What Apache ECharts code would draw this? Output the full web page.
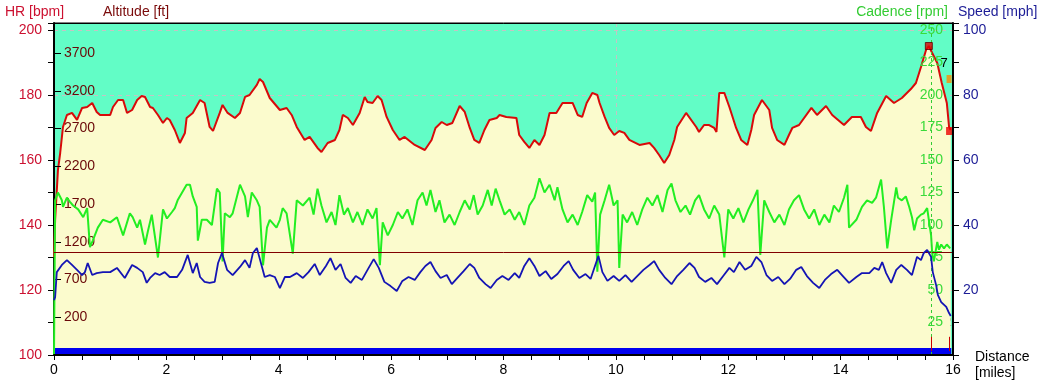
<!DOCTYPE html>
<html><head><meta charset="utf-8">
<script src="https://cdn.jsdelivr.net/npm/echarts/dist/echarts.min.js"></script>
<style>html,body{margin:0;padding:0;background:#fff}#c{width:1045px;height:385px}</style>
</head><body><div id="c"></div>
<script>
// ---------------- data ----------------
const altDist = [0,0.02,0.07,0.11,0.16,0.23,0.32,0.41,0.50,0.59,0.68,0.76,0.82,1.00,1.05,1.14,1.23,1.30,1.39,1.48,1.56,1.62,1.71,1.76,1.85,1.94,2.01,2.06,2.15,2.24,2.33,2.36,2.47,2.60,2.68,2.77,2.83,2.95,3.00,3.09,3.22,3.31,3.40,3.48,3.61,3.66,3.72,3.84,4.02,4.14,4.23,4.32,4.46,4.55,4.69,4.76,4.87,5.00,5.08,5.14,5.23,5.32,5.44,5.53,5.58,5.67,5.76,5.83,5.92,6.03,6.15,6.24,6.42,6.60,6.72,6.79,6.90,6.99,7.09,7.22,7.31,7.40,7.48,7.57,7.66,7.75,7.88,7.93,8.05,8.23,8.28,8.37,8.46,8.55,8.64,8.73,8.82,8.94,9.05,9.23,9.32,9.40,9.48,9.58,9.67,9.71,9.80,9.88,9.97,10.06,10.15,10.24,10.42,10.60,10.68,10.77,10.86,10.95,11.04,11.09,11.25,11.43,11.48,11.57,11.66,11.75,11.79,11.84,11.93,12.02,12.14,12.23,12.34,12.41,12.46,12.60,12.73,12.78,12.87,13.00,13.08,13.14,13.26,13.48,13.58,13.74,13.85,14.06,14.20,14.36,14.45,14.54,14.65,14.81,14.95,15.09,15.25,15.34,15.43,15.52,15.57,15.63,15.72,15.80,15.89,15.93,15.96];
const altFt = [1000,1490,2150,2377,2722,2881,2908,2815,2974,2987,3040,2921,2881,2881,2987,3080,3080,2908,2947,3080,3133,3120,2987,2974,2881,2775,2841,2815,2682,2510,2643,2841,2908,3080,3040,2722,2669,2908,3014,2908,2841,2908,3120,3146,3279,3358,3318,3106,2947,2974,2881,2722,2550,2590,2444,2391,2510,2550,2682,2881,2841,2748,2908,3120,3053,3040,3133,3080,2855,2682,2550,2590,2484,2417,2550,2709,2788,2748,2775,3000,2921,2709,2550,2510,2682,2815,2841,2881,2855,2841,2616,2524,2444,2550,2484,2616,2908,2908,3040,3040,2881,2855,3040,3173,3146,3040,2855,2709,2616,2669,2643,2550,2484,2510,2444,2351,2245,2351,2550,2722,2908,2722,2656,2748,2748,2709,2656,3173,3173,2987,2709,2550,2484,2682,2881,3080,2947,2709,2550,2484,2616,2709,2748,2974,2881,3000,2881,2748,2855,2855,2722,2669,2908,3133,3040,3106,3225,3305,3517,3742,3795,3702,3570,3305,3040,2722,2682];

const cadDist = [0,0.02,0.07,0.14,0.16,0.23,0.28,0.34,0.43,0.52,0.59,0.64,0.69,0.78,0.87,1.00,1.12,1.23,1.35,1.40,1.48,1.53,1.62,1.67,1.74,1.85,1.94,2.01,2.10,2.15,2.20,2.28,2.36,2.42,2.47,2.54,2.56,2.63,2.72,2.81,2.90,2.95,3.00,3.04,3.13,3.18,3.31,3.40,3.45,3.52,3.61,3.66,3.72,3.79,3.84,3.96,4.02,4.07,4.14,4.25,4.32,4.43,4.55,4.62,4.69,4.76,4.85,4.94,5.01,5.08,5.16,5.23,5.32,5.40,5.49,5.58,5.67,5.74,5.80,5.85,5.94,6.03,6.12,6.20,6.29,6.38,6.47,6.56,6.63,6.70,6.79,6.86,6.95,7.04,7.13,7.22,7.31,7.40,7.47,7.54,7.63,7.72,7.79,7.86,7.93,8.02,8.11,8.20,8.28,8.37,8.46,8.55,8.64,8.73,8.82,8.91,8.96,9.05,9.14,9.23,9.32,9.40,9.49,9.58,9.63,9.67,9.72,9.80,9.88,9.96,10.03,10.06,10.12,10.20,10.29,10.38,10.47,10.56,10.65,10.74,10.83,10.92,10.99,11.06,11.15,11.24,11.32,11.41,11.48,11.57,11.66,11.75,11.84,11.93,12.00,12.09,12.18,12.27,12.36,12.44,12.52,12.57,12.64,12.73,12.82,12.91,13.00,13.08,13.17,13.26,13.35,13.44,13.53,13.62,13.71,13.80,13.88,13.97,14.06,14.12,14.15,14.28,14.38,14.47,14.56,14.63,14.72,14.77,14.83,14.90,14.99,15.02,15.09,15.16,15.22,15.27,15.31,15.36,15.43,15.48,15.54,15.57,15.61,15.63,15.66,15.72,15.75,15.79,15.84,15.89,15.95];
const cadRpm = [0,119,125,119,114,121,118,115,112,106,113,83,88,98,104,102,106,92,109,106,98,104,85,95,108,75,112,105,110,113,119,125,131,131,122,114,88,104,104,100,128,125,72,109,106,109,131,122,106,125,119,114,69,98,104,98,104,113,109,78,119,115,121,108,128,115,102,110,100,123,108,113,102,110,100,112,105,113,69,102,92,100,110,105,112,100,119,125,115,127,110,119,102,108,100,110,119,112,123,108,115,127,115,128,119,108,112,104,110,100,115,121,136,125,131,119,129,112,102,108,100,110,123,118,125,64,108,119,131,115,119,67,108,102,110,100,112,121,115,123,110,127,132,119,110,115,108,119,123,112,105,115,108,75,112,105,113,102,112,119,127,77,119,110,102,108,100,112,119,123,112,105,112,100,108,102,115,110,121,131,98,104,114,119,117,121,135,114,82,104,129,121,119,122,114,106,96,105,108,109,113,104,92,78,72,87,81,85,82,85,82];

const spdDist = [0,0.02,0.05,0.14,0.23,0.32,0.41,0.50,0.55,0.60,0.68,0.76,0.87,1.00,1.12,1.26,1.39,1.48,1.58,1.65,1.71,1.80,1.88,1.97,2.06,2.19,2.28,2.38,2.47,2.54,2.60,2.68,2.77,2.86,2.92,2.99,3.08,3.18,3.31,3.40,3.48,3.54,3.61,3.66,3.75,3.84,3.93,4.02,4.11,4.20,4.32,4.43,4.53,4.64,4.73,4.84,4.92,5.01,5.10,5.19,5.28,5.37,5.48,5.58,5.69,5.78,5.88,5.99,6.10,6.20,6.31,6.42,6.52,6.61,6.70,6.79,6.88,6.99,7.08,7.18,7.29,7.40,7.48,7.57,7.68,7.77,7.88,7.98,8.09,8.20,8.28,8.37,8.46,8.55,8.64,8.75,8.85,8.96,9.07,9.16,9.24,9.35,9.46,9.55,9.64,9.69,9.76,9.85,9.96,10.06,10.17,10.28,10.38,10.49,10.60,10.68,10.77,10.88,10.99,11.09,11.20,11.31,11.40,11.48,11.59,11.70,11.80,11.91,12.02,12.10,12.20,12.30,12.41,12.50,12.59,12.68,12.78,12.89,13.00,13.10,13.21,13.30,13.40,13.51,13.62,13.72,13.83,13.94,14.04,14.15,14.28,14.38,14.51,14.60,14.68,14.74,14.81,14.90,14.99,15.08,15.18,15.27,15.36,15.43,15.48,15.54,15.61,15.64,15.70,15.73,15.79,15.88,15.93,15.96];
const spdMph = [16.9,17.8,25.5,27.7,29.2,27.7,26.2,24.6,25.5,28.3,24.6,25.2,25.5,25.5,26.8,23.7,27.7,26.8,25.5,22.2,23.7,25.2,24.6,25.5,24.0,24.0,26.2,30.8,25.2,28.3,24.0,22.5,22.2,22.5,28.3,31.4,26.2,24.6,27.1,29.2,26.8,31.4,32.9,29.8,24.0,24.6,24.0,20.6,24.0,24.0,25.2,23.7,25.5,28.0,24.6,27.4,29.8,26.2,28.0,23.7,22.2,24.3,23.1,26.2,29.5,26.8,22.5,21.2,19.7,22.8,24.0,23.1,25.5,27.4,28.6,25.8,23.7,24.6,21.8,23.7,25.8,28.0,26.8,23.7,21.8,20.6,23.1,24.3,23.1,25.2,23.7,27.4,29.8,27.4,24.3,25.8,23.4,24.9,27.4,28.9,26.2,23.7,24.9,23.4,28.0,30.5,25.5,22.8,24.3,22.8,24.6,22.5,24.3,26.2,27.7,28.9,26.2,23.7,21.8,24.3,26.2,28.3,26.8,24.0,22.5,23.7,21.8,24.3,26.8,25.5,28.6,26.2,27.4,30.2,28.6,24.6,22.8,24.0,21.8,23.4,26.2,27.1,24.3,22.2,20.6,23.1,24.9,26.2,24.3,22.2,24.0,25.2,25.2,26.8,26.2,28.6,25.2,22.2,26.2,27.7,26.2,24.6,30.2,29.2,31.4,32.3,30.2,25.5,21.5,18.5,16.3,14.8,12.9,12.0];

const hrBand = [[0, 101.1], [15.97, 101.1]];   // HR trace pinned at the bottom
const hrRefLine = 131.5;                         // dark red reference line
const hrLabelText = '173 bpm';
const cursorDist = 15.61;
const endDist = 15.93;
const markerPeak = [15.57, 3795];
const markerOrange = [15.93, 3358];
const markerEnd = [15.93, 2669];

const xTicks = {min: 0, max: 16, step: 2};
const hrAxis = {min: 100, max: 202.15, step: 20};
const altAxis = {base: 200, min: -300, max: 4100, step: 500};
const cadAxis = {min: 0, max: 255.4, step: 25};
const spdAxis = {min: 0, max: 102.15, step: 20};

// --------------- chart ----------------
const FONT = '"Liberation Sans", Arial, sans-serif';
const zip = (a, b, off) => a.map((d, i) => [d, b[i] - (off || 0)]);
const grid = '#c4c4c4';

const option = {
  animation: false,
  backgroundColor: '#ffffff',
  textStyle: {fontFamily: FONT},
  grid: {left: 54, right: 92, top: 23, bottom: 30, show: true, backgroundColor: '#62fdc6',
         borderColor: '#000', borderWidth: 1, containLabel: false, outerBoundsMode: 'none'},
  xAxis: [
    {type: 'value', min: xTicks.min, max: xTicks.max, interval: xTicks.step, position: 'bottom', z: 8,
     axisLine: {onZero: false, lineStyle: {color: '#000', width: 2}},
     axisTick: {length: 5, lineStyle: {color: '#000'}},
     minorTick: {show: true, splitNumber: 4, length: 5, lineStyle: {color: '#000'}},
     axisLabel: {color: '#000', fontSize: 14, margin: 8, fontFamily: FONT},
     splitLine: {show: false}},
    {type: 'value', min: xTicks.min, max: xTicks.max, interval: 10, position: 'bottom',
     axisLine: {show: false}, axisTick: {show: false}, axisLabel: {show: false},
     splitLine: {show: true, showMinLine: false, showMaxLine: false, lineStyle: {color: grid, type: [4, 4], width: 1}}},
    {type: 'value', min: xTicks.min, max: xTicks.max, position: 'top', z: 8,
     axisLine: {show: true, onZero: false, lineStyle: {color: '#000', width: 1}},
     axisTick: {show: false}, axisLabel: {show: false}, splitLine: {show: false}}
  ],
  yAxis: [
    {type: 'value', position: 'left', min: hrAxis.min, max: hrAxis.max, interval: hrAxis.step,
     axisLine: {show: true, onZero: false, lineStyle: {color: '#000', width: 2}},
     axisTick: {show: true, length: 6, lineStyle: {color: '#000'}},
     minorTick: {show: true, splitNumber: 2, length: 6, lineStyle: {color: '#000'}},
     axisLabel: {color: '#cc1030', fontSize: 14, margin: 12, fontFamily: FONT, showMaxLabel: false,
                 formatter: v => (Math.abs(v % 20) < 1e-6 ? String(v) : '')},
     splitLine: {show: true, showMinLine: false, showMaxLine: false, lineStyle: {color: grid, type: [4, 4], width: 1}}},
    {type: 'value', position: 'left', min: altAxis.min - altAxis.base, max: altAxis.max - altAxis.base, interval: altAxis.step,
     z: 3,
     axisLine: {show: false},
     axisTick: {show: true, inside: true, length: 7, lineStyle: {color: '#000'}},
     axisLabel: {inside: true, color: '#6a0808', fontSize: 14, margin: 10, fontFamily: FONT,
                 showMinLabel: false, showMaxLabel: false,
                 formatter: v => String(Math.round(v + altAxis.base))},
     splitLine: {show: false}},
    {type: 'value', position: 'right', min: cadAxis.min, max: cadAxis.max, interval: cadAxis.step,
     z: 3,
     axisLine: {show: false}, axisTick: {show: false},
     axisLabel: {inside: true, color: '#3ada3a', fontSize: 14, margin: 10, fontFamily: FONT,
                 showMinLabel: false, showMaxLabel: false},
     splitLine: {show: false}},
    {type: 'value', position: 'right', min: spdAxis.min, max: spdAxis.max, interval: spdAxis.step,
     z: 8,
     axisLine: {show: true, onZero: false, lineStyle: {color: '#000', width: 2}},
     axisTick: {show: true, length: 6, lineStyle: {color: '#000'}},
     minorTick: {show: true, splitNumber: 2, length: 6, lineStyle: {color: '#000'}},
     axisLabel: {color: '#1c1c96', fontSize: 14, margin: 10, fontFamily: FONT,
                 showMinLabel: false, showMaxLabel: false},
     splitLine: {show: false}}
  ],
  series: [
    {name: 'Altitude', type: 'line', xAxisIndex: 0, yAxisIndex: 1, data: zip(altDist, altFt, altAxis.base),
     showSymbol: false, symbol: 'none', z: 2,
     lineStyle: {color: '#d80a0a', width: 2},
     areaStyle: {color: '#fbfbcd', opacity: 1, origin: 'start'}},
    {name: 'HR', type: 'line', xAxisIndex: 0, yAxisIndex: 0, data: hrBand, showSymbol: false, symbol: 'none', z: 4,
     lineStyle: {color: '#0000f0', width: 7, cap: 'butt'},
     markLine: {silent: true, symbol: 'none', label: {show: false},
                lineStyle: {color: '#800000', width: 1, type: 'solid'},
                data: [{yAxis: hrRefLine}]}},
    {name: 'Cadence', type: 'line', xAxisIndex: 0, yAxisIndex: 2, data: zip(cadDist, cadRpm),
     showSymbol: false, symbol: 'none', z: 4,
     lineStyle: {color: '#22ee22', width: 2},
     markLine: {silent: true, symbol: 'none', label: {show: false},
                data: [
                  {xAxis: cursorDist, lineStyle: {color: '#33cc33', width: 1, type: [3, 3]}},
                  [{coord: [cursorDist, 3], lineStyle: {color: '#cc0000', width: 1, type: 'solid'}}, {coord: [cursorDist, 14]}],
                  [{coord: [endDist, 3], lineStyle: {color: '#cc0000', width: 1, type: 'solid'}}, {coord: [endDist, 14]}]
                ]}},
    {name: 'Speed', type: 'line', xAxisIndex: 0, yAxisIndex: 3, data: zip(spdDist, spdMph),
     showSymbol: false, symbol: 'none', z: 5,
     lineStyle: {color: '#1414b4', width: 1.8}},
    {name: 'Markers', type: 'scatter', xAxisIndex: 0, yAxisIndex: 1, z: 6, silent: true,
     data: [
       {value: [markerPeak[0], markerPeak[1] - altAxis.base], symbol: 'rect', symbolSize: [7, 7],
        itemStyle: {color: '#e00000', borderColor: '#600000', borderWidth: 1}},
       {value: [markerOrange[0], markerOrange[1] - altAxis.base], symbol: 'rect', symbolSize: [5, 8],
        itemStyle: {color: '#ff8c00'}},
       {value: [markerEnd[0], markerEnd[1] - altAxis.base], symbol: 'rect', symbolSize: [6, 8],
        itemStyle: {color: '#ee0000'}}
     ]}
  ],
  graphic: [
    {type: 'text', x: 5, y: 12, style: {text: 'HR [bpm]', fill: '#cc1030', font: '14px ' + FONT, textVerticalAlign: 'middle'}},
    {type: 'text', x: 103, y: 12, style: {text: 'Altitude [ft]', fill: '#7a0a0a', font: '14px ' + FONT, textVerticalAlign: 'middle'}},
    {type: 'text', x: 948, y: 12, style: {text: 'Cadence [rpm]', fill: '#33cc33', font: '14px ' + FONT, textAlign: 'right', textVerticalAlign: 'middle'}},
    {type: 'text', x: 958, y: 12, style: {text: 'Speed [mph]', fill: '#1c1c96', font: '14px ' + FONT, textVerticalAlign: 'middle'}},
    {type: 'text', x: 975, y: 357, style: {text: 'Distance', fill: '#000', font: '14px ' + FONT, textVerticalAlign: 'middle'}},
    {type: 'text', x: 975, y: 373, style: {text: '[miles]', fill: '#000', font: '14px ' + FONT, textVerticalAlign: 'middle'}},
    {type: 'text', x: 502, y: 340, style: {text: hrLabelText, fill: '#000', font: '14px ' + FONT, textAlign: 'center', textVerticalAlign: 'middle'}},
    {type: 'text', x: 944, y: 63, style: {text: '7', fill: '#000', font: '13px ' + FONT, textAlign: 'center', textVerticalAlign: 'middle'}},
    {type: 'text', x: 948, y: 322, style: {text: '2', fill: '#000', font: '13px ' + FONT, textAlign: 'center', textVerticalAlign: 'middle'}}
  ]
};

const chart = echarts.init(document.getElementById('c'), null, {renderer: 'canvas', width: 1045, height: 385});
chart.setOption(option);
</script>
</body></html>
